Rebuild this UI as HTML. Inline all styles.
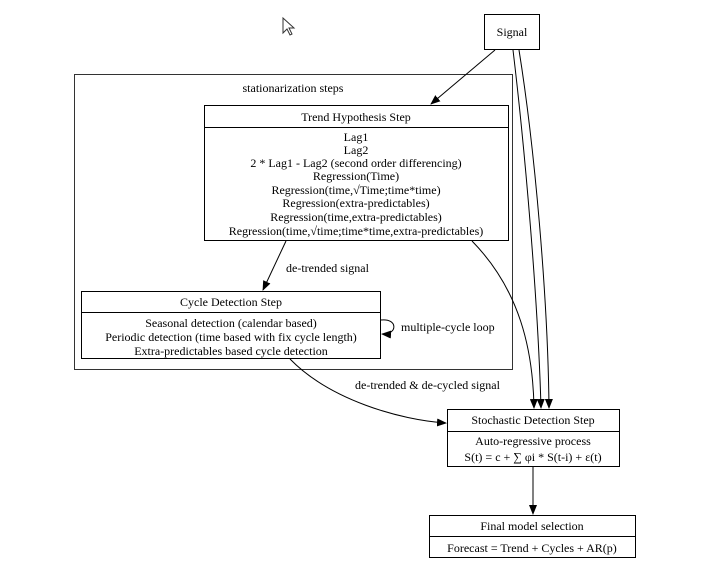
<!DOCTYPE html>
<html><head><meta charset="utf-8"><style>html,body{margin:0;background:#fff}</style></head><body>
<svg width="701" height="582" viewBox="0 0 701 582" xmlns="http://www.w3.org/2000/svg" font-family="Liberation Serif, serif" font-size="12" fill="#000">
<defs><marker id="a" markerWidth="10" markerHeight="8" refX="9" refY="4" orient="auto" markerUnits="userSpaceOnUse"><path d="M0,0 L10,4 L0,8 z" fill="#000"/></marker></defs>
<path d="M283,18 L283,33 L287,29 L290,35 L292,34 L289,28 L294,28 Z" fill="#fff" stroke="#333" stroke-width="1"/>
<g fill="none" stroke="#000" stroke-width="1">
<rect x="484.5" y="14.5" width="55" height="35"/>
<rect x="74.5" y="74.5" width="438" height="295" stroke="#333"/>
<rect x="204.5" y="105.5" width="304" height="135"/>
<line x1="204.5" y1="127.5" x2="508.5" y2="127.5"/>
<rect x="81.5" y="291.5" width="299" height="67"/>
<line x1="81.5" y1="312.5" x2="380.5" y2="312.5"/>
<rect x="447.5" y="409.5" width="172" height="57"/>
<line x1="447.5" y1="431.5" x2="619.5" y2="431.5"/>
<rect x="429.5" y="515.5" width="206" height="42"/>
<line x1="429.5" y1="536.5" x2="635.5" y2="536.5"/>
<path d="M495,50 L431,104" marker-end="url(#a)"/>
<path d="M513,50 C525,150 538,300 541,408" marker-end="url(#a)"/>
<path d="M519,50 C535,150 548,300 549,408" marker-end="url(#a)"/>
<path d="M472,241 C520,290 533,350 534,408" marker-end="url(#a)"/>
<path d="M286,241 L263,290" marker-end="url(#a)"/>
<path d="M290,359 C330,400 400,420 446,423" marker-end="url(#a)"/>
<path d="M381,320 C398,318 398,335 382,334" marker-end="url(#a)"/>
<path d="M533,467 L533,514" marker-end="url(#a)"/>
</g>
<g text-anchor="middle">
<text x="512" y="36">Signal</text>
<text x="293" y="92">stationarization steps</text>
<text x="356" y="121">Trend Hypothesis Step</text>
<text x="356" y="141">Lag1</text>
<text x="356" y="154">Lag2</text>
<text x="356" y="167">2 * Lag1 - Lag2 (second order differencing)</text>
<text x="356" y="180">Regression(Time)</text>
<text x="356" y="194">Regression(time,√Time;time*time)</text>
<text x="356" y="207">Regression(extra-predictables)</text>
<text x="356" y="221">Regression(time,extra-predictables)</text>
<text x="356" y="235">Regression(time,√time;time*time,extra-predictables)</text>
<text x="231" y="306">Cycle Detection Step</text>
<text x="231" y="327">Seasonal detection (calendar based)</text>
<text x="231" y="341">Periodic detection (time based with fix cycle length)</text>
<text x="231" y="355">Extra-predictables based cycle detection</text>
<text x="533" y="424">Stochastic Detection Step</text>
<text x="533" y="445">Auto-regressive process</text>
<text x="533" y="461">S(t) = c + ∑ φi * S(t-i) + ε(t)</text>
<text x="532" y="530">Final model selection</text>
<text x="532" y="552">Forecast = Trend + Cycles + AR(p)</text>
</g>
<text x="286" y="272">de-trended signal</text>
<text x="401" y="331">multiple-cycle loop</text>
<text x="355" y="389">de-trended &amp; de-cycled signal</text>
</svg>
</body></html>
